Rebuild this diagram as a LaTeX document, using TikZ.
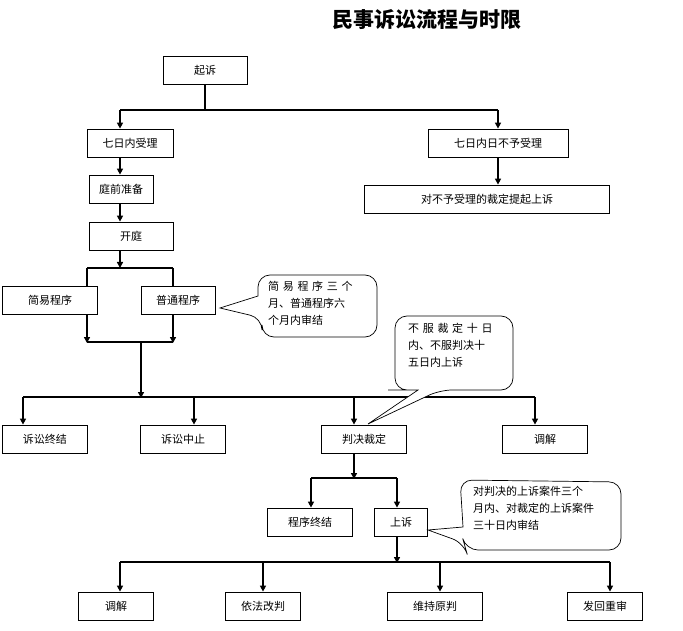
\documentclass[tikz,border=0pt]{standalone}
\usepackage{fontspec}
\setmainfont{Noto Sans CJK SC}
\usetikzlibrary{arrows.meta}
\begin{document}
\begin{tikzpicture}[x=1pt,y=-1pt,
  box/.style={draw,line width=0.8pt,minimum height=28pt,font=\fontsize{11}{13}\selectfont,inner sep=1pt},
  ln/.style={line width=1.5pt},
  ar/.style={line width=1.5pt,-{Triangle[length=6pt,width=6pt]}},
  call/.style={draw,line width=0.7pt,fill=white,rounded corners=12pt},
  ctext/.style={font=\fontsize{11}{17}\selectfont,align=left,text width=#1,inner sep=0pt}]
\useasboundingbox (0,0) rectangle (683,631);
\node[font=\bfseries\fontsize{21}{24}\selectfont] (title) at (427,20) {民事诉讼流程与时限};
\node[box,minimum width=84pt] (qs) at (205,70) {起诉};
\node[box,minimum width=86pt] (sl) at (130,143) {七日内受理};
\node[box,minimum width=140pt] (bsl) at (498,143) {七日内日不予受理};
\node[box,minimum width=245pt] (sy) at (487,199) {对不予受理的裁定提起上诉};
\node[box,minimum width=64pt] (tq) at (121,189) {庭前准备};
\node[box,minimum width=84pt] (kt) at (131,236) {开庭};
\node[box,minimum width=95pt] (jy) at (50,300) {简易程序};
\node[box,minimum width=74pt] (pt) at (178,300) {普通程序};
\node[box,minimum width=85pt] (zj) at (45,439) {诉讼终结};
\node[box,minimum width=85pt] (zz) at (183,439) {诉讼中止};
\node[box,minimum width=85pt] (pj) at (364,439) {判决裁定};
\node[box,minimum width=85pt] (tj) at (545,439) {调解};
\node[box,minimum width=85pt] (cz) at (310,522) {程序终结};
\node[box,minimum width=53pt] (ss) at (401,522) {上诉};
\node[box,minimum width=75pt] (tj2) at (116,606) {调解};
\node[box,minimum width=75pt] (gp) at (263,606) {依法改判};
\node[box,minimum width=95pt] (wc) at (435,606) {维持原判};
\node[box,minimum width=75pt] (fh) at (605,606) {发回重审};
% connectors
\draw[ln] (qs.south) -- (205,110) coordinate (b1);
\draw[ln] (120,110) -- (b1) -- (498,110);
\draw[ar] (120,110) -- (sl.north -| 120,0);
\draw[ar] (498,110) -- (bsl.north);
\draw[ar] (bsl.south -| 498,0) -- (sy.north -| 498,0);
\draw[ar] (sl.south -| 120,0) -- (tq.north -| 120,0);
\draw[ar] (tq.south -| 120,0) -- (kt.north -| 120,0);
\draw[ar] (kt.south -| 120,0) -- (120,268) coordinate (b2);
\draw[ln] (87,268) -- (173,268);
\draw[ln] (87,268) -- (jy.north -| 87,0);
\draw[ln] (173,268) -- (pt.north -| 173,0);
\draw[ar] (jy.south -| 87,0) -- (87,343);
\draw[ar] (pt.south -| 173,0) -- (173,343);
\draw[ln] (87,342) -- (173,342);
\draw[ar] (141,342) -- (141,398);
\draw[ln] (23,397) -- (535,397);
\draw[ar] (23,397) -- (zj.north -| 23,0);
\draw[ar] (194,397) -- (zz.north -| 194,0);
\draw[ar] (354,397) -- (pj.north -| 354,0);
\draw[ar] (535,397) -- (tj.north -| 535,0);
\draw[ar] (pj.south -| 354,0) -- (354,479);
\draw[ln] (311,478) -- (397,478);
\draw[ar] (311,478) -- (cz.north -| 311,0);
\draw[ar] (397,478) -- (ss.north -| 397,0);
\draw[ar] (ss.south -| 397,0) -- (397,563);
\draw[ln] (120,562) -- (610,562);
\draw[ar] (120,562) -- (tj2.north -| 120,0);
\draw[ar] (263,562) -- (gp.north -| 263,0);
\draw[ar] (440,562) -- (wc.north -| 440,0);
\draw[ar] (610,562) -- (fh.north -| 610,0);
% callouts
\draw[call] (258,300) -- (258,275) -- (377,275) -- (377,337) -- (262,337) -- (262,318) [sharp corners]-- (220,308) -- (258,296) [rounded corners=12pt] -- cycle;
\node[ctext=105pt,anchor=north west] (c1) at (268,281) {简 易 程 序 三 个 月、普通程序六 个月内审结};
\draw[call] (400,390) -- (395,390) -- (395,316) -- (513,316) -- (513,390) -- (440,390) [sharp corners]-- (368,424) -- (418,390) [rounded corners=12pt] -- cycle;
\node[ctext=98pt,anchor=north west] (c2) at (408,323) {不 服 裁 定 十 日 内、不服判决十 五日内上诉};
\draw[call] (462,510) -- (460,480) -- (621,482) -- (621,550) -- (466,550) -- (464,543) [sharp corners]-- (428,530) -- (463,527) [rounded corners=12pt] -- cycle;
\node[ctext=150pt,anchor=north west] (c3) at (473,486) {对判决的上诉案件三个 月内、对裁定的上诉案件 三十日内审结};
\end{tikzpicture}
\end{document}
